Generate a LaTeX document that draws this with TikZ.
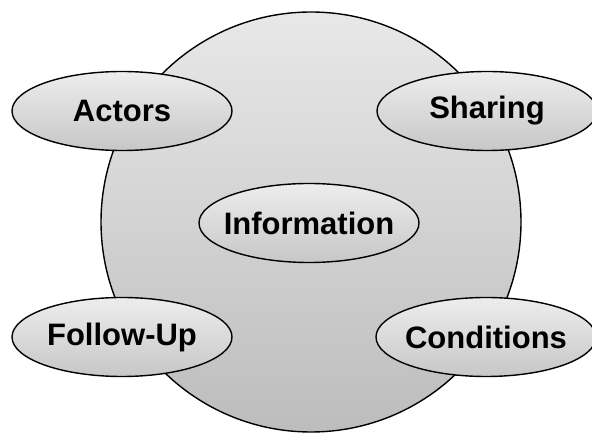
\documentclass[tikz,border=0pt]{standalone}
\usepackage{fontspec}
\setmainfont{Liberation Sans}
\usetikzlibrary{shapes.geometric}

\tikzset{
  topic/.style={ellipse, draw=black, line width=1.4pt, minimum width=220pt, minimum height=79pt,
    inner xsep=-10pt, inner ysep=0pt, top color=black!7, bottom color=black!22,
    font=\fontsize{31pt}{36pt}\selectfont\bfseries}
}

\begin{document}
\begin{tikzpicture}[x=1pt,y=1pt]
    \useasboundingbox (0,0) rectangle (592,434);

    % Big circle
    \node[circle, draw=black, line width=1.4pt, minimum size=420pt, inner sep=0pt,
      top color=black!9, bottom color=black!26] (field) at (311,212) {};

    % Centre
    \node[topic] (info) at (309,211) {Information};

    % Corners
    \node[topic] (actors) at (122,323) {Actors};
    \node[topic] (sharing) at (487,323) {Sharing};
    \node[topic] (followup) at (122,97) {Follow-Up};
    \node[topic] (conditions) at (486,97) {Conditions};
  \end{tikzpicture}
\end{document}
